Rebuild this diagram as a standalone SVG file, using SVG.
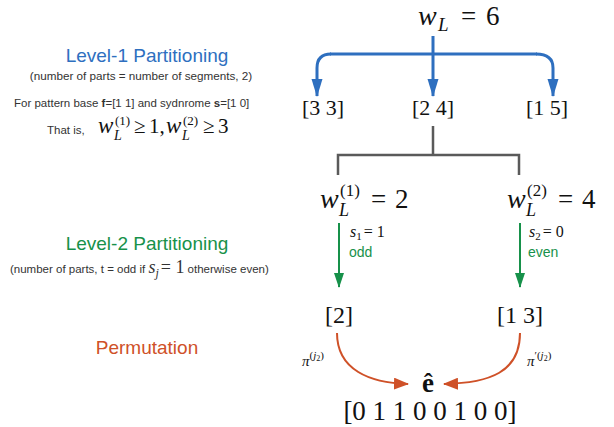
<svg xmlns="http://www.w3.org/2000/svg" width="614" height="427" viewBox="0 0 614 427">
<defs>
<style>
.sans{font-family:"Liberation Sans",Arial,sans-serif}
.serif{font-family:"Liberation Serif","Times New Roman",serif}
.it{font-style:italic}
.blue{fill:#2e6fbf}
.green{fill:#17914a}
.red{fill:#cf5128}
.blk{fill:#111}
</style>
<marker id="ab" viewBox="0 0 18 11" refX="17" refY="5.5" markerWidth="6" markerHeight="3.67" orient="auto" markerUnits="strokeWidth"><path d="M0,0 L18,5.5 L0,11 z" fill="#2e6fbf"/></marker>
<marker id="ag" viewBox="0 0 15 10" refX="14" refY="5" markerWidth="7.5" markerHeight="5" orient="auto" markerUnits="strokeWidth"><path d="M0,0 L15,5 L0,10 z" fill="#17914a"/></marker>
<marker id="ar" viewBox="0 0 15 12" refX="14" refY="6" markerWidth="7.5" markerHeight="6" orient="auto" markerUnits="strokeWidth"><path d="M0,0 L15,6 L0,12 z" fill="#cf5128"/></marker>
</defs>
<rect width="614" height="427" fill="#fff"/>

<g id="labels-left">
<text class="sans blue" x="147" y="62" font-size="19" text-anchor="middle">Level-1 Partitioning</text>
<text class="sans" x="141" y="80" font-size="11.7" text-anchor="middle" fill="#333">(number of parts = number of segments, 2)</text>
<text class="sans" x="14" y="107" font-size="11.5" fill="#333">For pattern base <tspan font-weight="bold">f</tspan>=[1 1] and sydnrome <tspan font-weight="bold">s</tspan>=[1 0]</text>
<text class="sans" x="47" y="134" font-size="11.5" fill="#333">That is,</text>
<g class="serif blk">
<text class="it" x="98" y="133" font-size="23">w</text>
<text class="it" x="114" y="140" font-size="14">L</text>
<text x="115" y="125" font-size="13">(1)</text>
<text x="134" y="133" font-size="21">≥</text>
<text x="149" y="133" font-size="21">1,</text>
<text class="it" x="166" y="133" font-size="23">w</text>
<text class="it" x="182" y="140" font-size="14">L</text>
<text x="183" y="125" font-size="13">(2)</text>
<text x="203" y="133" font-size="21">≥</text>
<text x="218" y="133" font-size="21">3</text>
</g>
<text class="sans green" x="147" y="250" font-size="19" text-anchor="middle">Level-2 Partitioning</text>
<text class="sans" x="10" y="273" font-size="11.5" fill="#333">(number of parts, t = odd if <tspan class="serif it" font-size="18">s</tspan><tspan class="serif it" font-size="12" dy="4">j</tspan><tspan class="serif" font-size="18" dy="-4" dx="2">= 1</tspan> otherwise even)</text>
<text class="sans red" x="147" y="354" font-size="19" text-anchor="middle">Permutation</text>
</g>

<g id="connectors" fill="none">
<path d="M433,36 V96" stroke="#2e6fbf" stroke-width="3" marker-end="url(#ab)"/>
<path d="M330,54 H537" stroke="#2e6fbf" stroke-width="3"/>
<path d="M331,54 Q317,54 317,68 V96" stroke="#2e6fbf" stroke-width="3" marker-end="url(#ab)"/>
<path d="M536,54 Q553,54 553,68 V96" stroke="#2e6fbf" stroke-width="3" marker-end="url(#ab)"/>
<path d="M433,126 V155 M338,175 V155 H519 V175" stroke="#5a5a5a" stroke-width="2.5"/>
<path d="M339,223 V287" stroke="#17914a" stroke-width="2" marker-end="url(#ag)"/>
<path d="M520,223 V287" stroke="#17914a" stroke-width="2" marker-end="url(#ag)"/>
<path d="M337,333 C337,370 370,383 408,384" stroke="#cf5128" stroke-width="2" marker-end="url(#ar)"/>
<path d="M520,333 C520,372 490,383 444,384" stroke="#cf5128" stroke-width="2" marker-end="url(#ar)"/>
</g>

<g id="node-root" class="serif blk">
<text class="it" x="418" y="25" font-size="28">w</text>
<text class="it" x="438" y="31" font-size="19">L</text>
<text x="461" y="25" font-size="27">=</text>
<text x="486" y="25" font-size="27">6</text>
</g>
<g id="node-33"><text class="serif blk" x="323" y="115" font-size="22" text-anchor="middle">[3 3]</text></g>
<g id="node-24"><text class="serif blk" x="433" y="115" font-size="22" text-anchor="middle">[2 4]</text></g>
<g id="node-15"><text class="serif blk" x="547" y="115" font-size="22" text-anchor="middle">[1 5]</text></g>
<g id="node-w1" class="serif blk">
<text class="it" x="320" y="208" font-size="28">w</text>
<text class="it" x="339" y="216" font-size="18">L</text>
<text x="340" y="196" font-size="17">(1)</text>
<text x="371" y="208" font-size="27">=</text>
<text x="395" y="208" font-size="27">2</text>
</g>
<g id="node-w2" class="serif blk">
<text class="it" x="507" y="208" font-size="28">w</text>
<text class="it" x="526" y="216" font-size="18">L</text>
<text x="527" y="196" font-size="17">(2)</text>
<text x="558" y="208" font-size="27">=</text>
<text x="582" y="208" font-size="27">4</text>
</g>
<g id="label-s1">
<text class="serif blk" x="350" y="237" font-size="16"><tspan class="it">s</tspan><tspan font-size="11" dy="3">1</tspan><tspan dy="-3" dx="2">= 1</tspan></text>
<text class="sans green" x="349" y="257" font-size="14">odd</text>
</g>
<g id="label-s2">
<text class="serif blk" x="529" y="237" font-size="16"><tspan class="it">s</tspan><tspan font-size="11" dy="3">2</tspan><tspan dy="-3" dx="2">= 0</tspan></text>
<text class="sans green" x="528" y="257" font-size="14">even</text>
</g>
<g id="node-2"><text class="serif blk" x="339" y="323" font-size="24" text-anchor="middle">[2]</text></g>
<g id="node-13"><text class="serif blk" x="520" y="323" font-size="24" text-anchor="middle">[1 3]</text></g>
<g id="label-pi1"><text class="serif blk" x="302" y="366" font-size="15"><tspan class="it">π</tspan><tspan font-size="11" dy="-7">(</tspan><tspan class="it" font-size="11">j</tspan><tspan font-size="8" dy="2">2</tspan><tspan font-size="11" dy="-2">)</tspan></text></g>
<g id="label-pi2"><text class="serif blk" x="527" y="366" font-size="15"><tspan class="it">π</tspan><tspan font-size="11" dy="-7">′(</tspan><tspan class="it" font-size="11">j</tspan><tspan font-size="8" dy="2">2</tspan><tspan font-size="11" dy="-2">)</tspan></text></g>
<g id="node-e">
<text class="serif blk" x="428" y="392" font-size="27" font-weight="bold" text-anchor="middle">ê</text>
<text class="serif blk" x="430" y="420" font-size="27" text-anchor="middle">[0 1 1 0 0 1 0 0]</text>
</g>
</svg>
